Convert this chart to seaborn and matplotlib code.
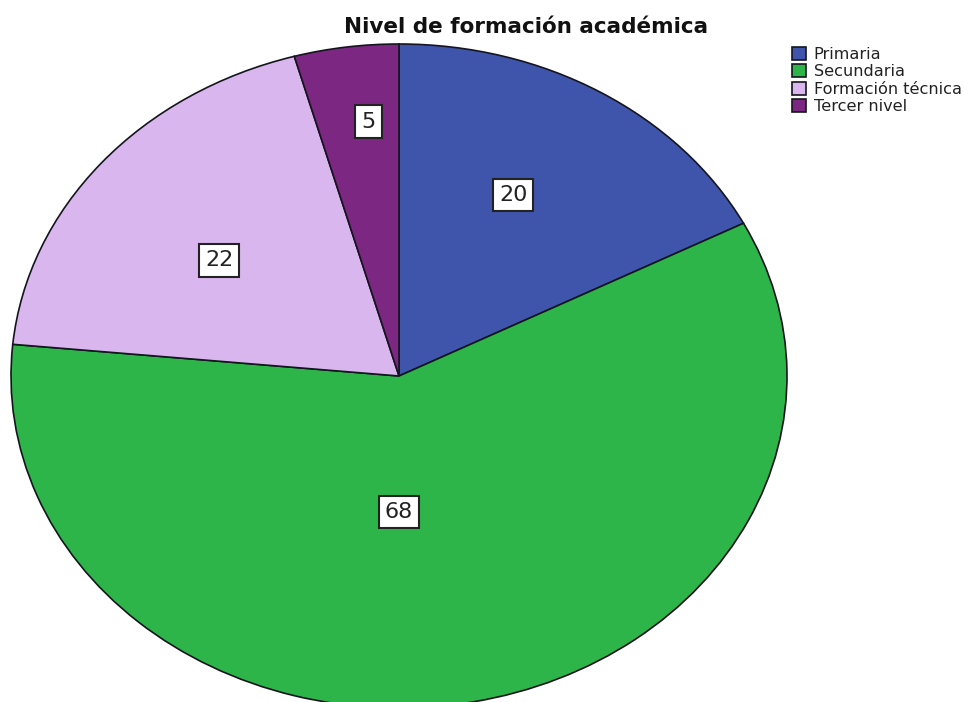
import matplotlib
matplotlib.use("Agg")
import matplotlib.pyplot as plt
import numpy as np
import seaborn as sns

# Data: count of respondents per academic level
categories = ["Primaria", "Secundaria", "Formación técnica", "Tercer nivel"]
counts = [20, 68, 22, 5]
colors = ["#3F55AB", "#2EB54A", "#D9B6EE", "#7C2882"]
title = "Nivel de formación académica"

sns.set_theme(style="white")
plt.rcParams["font.family"] = ["DejaVu Sans"]

W, H = 964, 702
fig = plt.figure(figsize=(W / 100, H / 100), dpi=100)
ax = fig.add_axes([0, 0, 1, 1])

wedges, _ = ax.pie(
    counts,
    colors=colors,
    startangle=90,
    counterclock=False,
    radius=1.0,
    wedgeprops=dict(edgecolor="#15151f", linewidth=1.2),
)

# Elliptical pie: horizontal and vertical radii in pixels, center in pixels
cx, cy, rx, ry = 399, 376, 388, 332
ax.set_aspect("auto")
ax.set_xlim(-cx / rx, (W - cx) / rx)
ax.set_ylim(-(H - cy) / ry, cy / ry)
ax.axis("off")

# Value labels inside each wedge
label_dist = [0.62, 0.41, 0.58, 0.77]
label_shift = [3, -11, 3, -2]
for w, n, d, s in zip(wedges, counts, label_dist, label_shift):
    ang = np.deg2rad((w.theta1 + w.theta2) / 2 + s)
    ax.text(
        d * np.cos(ang), d * np.sin(ang), str(n),
        ha="center", va="center", fontsize=16, color="#222222",
        bbox=dict(boxstyle="square,pad=0.28", facecolor="white",
                  edgecolor="#222222", linewidth=1.5),
    )

fig.text(526 / W, 1 - 27 / H, title, ha="center", va="center",
         fontsize=15.5, fontweight="bold", color="#111111")

leg = ax.legend(
    wedges, categories,
    loc="upper left", bbox_to_anchor=(792 / W, 1 - 47 / H),
    bbox_transform=fig.transFigure,
    frameon=False, fontsize=11.6, borderpad=0, borderaxespad=0,
    handlelength=0.85, handleheight=0.85, handletextpad=0.5,
    labelspacing=0.15,
)
for t in leg.get_texts():
    t.set_color("#222222")

fig.savefig("out.png", dpi=100, facecolor="white")
